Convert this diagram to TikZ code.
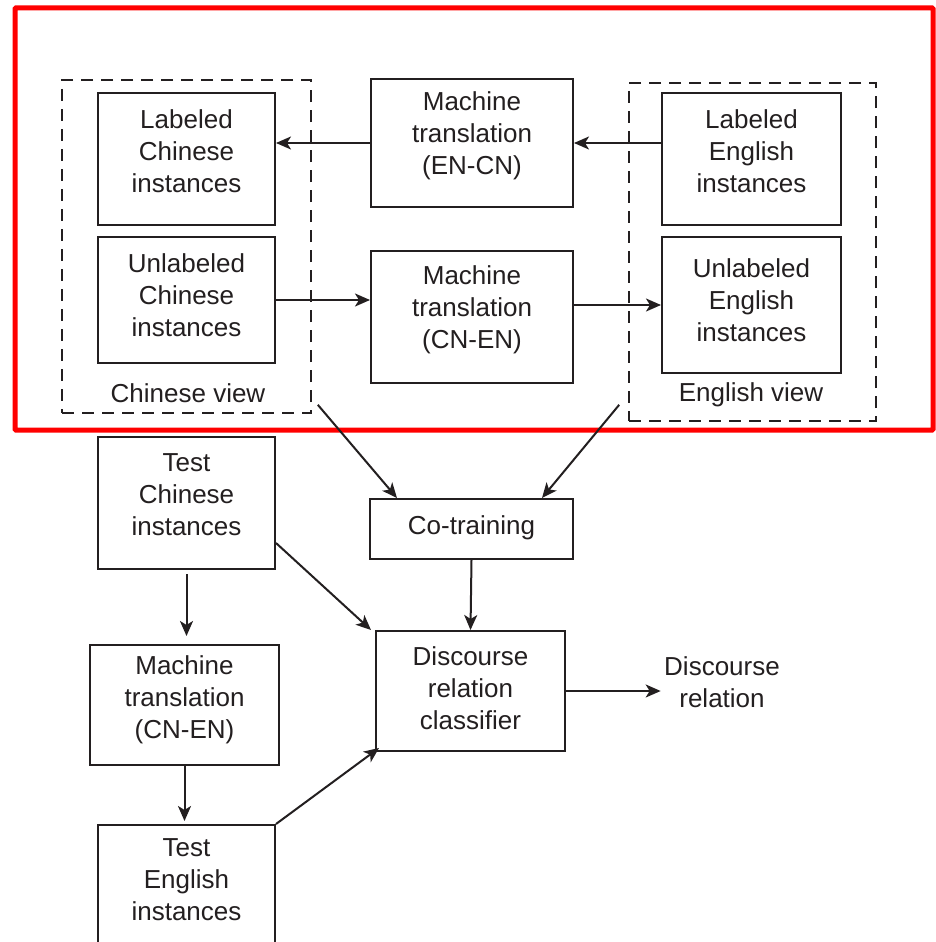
\documentclass[tikz,border=0pt]{standalone}
\usepackage{fontspec}
\setmainfont{Liberation Sans}
\usetikzlibrary{arrows.meta,calc}
\definecolor{ink}{HTML}{231F20}

\begin{document}
\begin{tikzpicture}[x=1pt,y=-1pt,
  box/.style={draw=ink,line width=2pt,rectangle,inner sep=0pt},
  txt/.style={align=center,font=\fontsize{26}{32}\selectfont,text=ink},
  intxt/.style={txt,yshift=#1},
  view/.style={draw=ink,line width=1.6pt,dash pattern=on 12pt off 8pt,rectangle},
  arr/.style={draw=ink,line width=2pt,-{Stealth[length=15pt,width=13pt,inset=4pt]}}]
\useasboundingbox (0,0) rectangle (936,942);
\fill[white] (0,0) rectangle (936,942);

% highlight frame
\draw[red,line width=5pt,rounded corners=1pt] (15,8) rectangle (933,430);

% views
\node[view,minimum width=249pt,minimum height=333pt] (cnview) at (186.5,246.5) {};
\node[view,minimum width=247pt,minimum height=338pt] (enview) at (752.5,252) {};
\node[txt] (cnlab) at (188,393) {Chinese view};
\node[txt] (enlab) at (751,395) {English view};

% upper boxes
\node[box,minimum width=177pt,minimum height=132pt,
  label={[intxt=8pt]center:{Labeled\\Chinese\\instances}}] (lch) at (186.5,159) {};
\node[box,minimum width=177pt,minimum height=126pt,
  label={[intxt=5pt]center:{Unlabeled\\Chinese\\instances}}] (uch) at (186.5,300) {};
\node[box,minimum width=202pt,minimum height=128pt,
  label={[intxt=7pt]center:{Machine\\translation\\(EN-CN)}}] (mtec) at (472,143) {};
\node[box,minimum width=202pt,minimum height=132pt,
  label={[intxt=7pt]center:{Machine\\translation\\(CN-EN)}}] (mtce) at (472,317) {};
\node[box,minimum width=179pt,minimum height=132pt,
  label={[intxt=8pt]center:{Labeled\\English\\instances}}] (len) at (751.5,159) {};
\node[box,minimum width=179pt,minimum height=136pt,
  label={[intxt=5pt]center:{Unlabeled\\English\\instances}}] (uen) at (751.5,305) {};

% lower boxes
\node[box,minimum width=177pt,minimum height=132pt,
  label={[intxt=8pt]center:{Test\\Chinese\\instances}}] (tch) at (186.5,503) {};
\node[box,minimum width=203pt,minimum height=60pt,
  label={[intxt=1pt]center:Co-training}] (cot) at (471.5,529) {};
\node[box,minimum width=189pt,minimum height=120pt,
  label={[intxt=3pt]center:{Discourse\\relation\\classifier}}] (dcl) at (470.5,691) {};
\node[box,minimum width=189pt,minimum height=120pt,
  label={[intxt=5pt]center:{Machine\\translation\\(CN-EN)}}] (mt2) at (184.5,705) {};
\node[box,minimum width=177pt,minimum height=136pt,
  label={[intxt=13pt]center:{Test\\English\\instances}}] (ten) at (186.5,893) {};
\node[txt] (dout) at (722,682) {Discourse\\relation};

% arrows
\draw[arr] (mtec.west) -- (mtec.west -| lch.east);
\draw[arr] (len.west |- mtec.east) -- (mtec.east);
\draw[arr] (uch.east) -- (uch.east -| mtce.west);
\draw[arr] (mtce.east |- uen.west) -- (uen.west);
\draw[arr] ([xshift=6pt,yshift=9pt]cnview.south east) -- ([xshift=28pt]cot.north west);
\draw[arr] ([xshift=-9pt,yshift=17pt]enview.south west) -- ([xshift=-32pt]cot.north east);
\draw[arr] (cot.south) -- (dcl.north);
\draw[arr] ([yshift=-40pt]tch.east) -- ([xshift=-4pt]dcl.north west);
\draw[arr,shorten <=4pt,shorten >=8pt] (tch.south) -- (tch.south |- mt2.north);
\draw[arr,shorten >=3pt] (mt2.south) -- (mt2.south |- ten.north);
\draw[arr] (ten.north east) -- ([xshift=4pt,yshift=4pt]dcl.south west);
\draw[arr] (dcl.east) -- (dcl.east -| dout.west);
\end{tikzpicture}
\end{document}
